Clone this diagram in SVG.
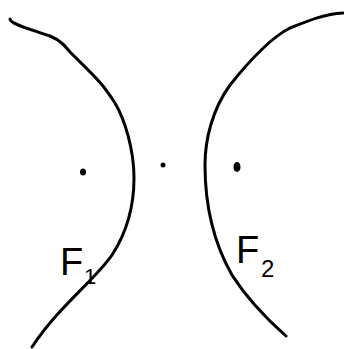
<svg xmlns="http://www.w3.org/2000/svg" width="344" height="349" viewBox="0 0 344 349">
<style>
.curve{fill:none;stroke:#000;stroke-width:3;stroke-linecap:round;stroke-linejoin:round}
.lbl{font-family:"Liberation Sans",Arial,sans-serif;fill:#000}
</style>
<rect width="344" height="349" fill="#fff"/>
<g id="connectors">
<path class="curve" d="M10,19 C10,24 30,29 50,36 C60,40 65,46 70,52 C82,64 95,76 103,86 C110,95 113,100 115,103 C125,120 134,150 134,178 C134,205 127,232 112,255 C95,280 60,305 32,347"/>
<path class="curve" d="M343,13 C325,14 310,20 290,28 C270,38 250,60 230,85 C212,110 205,140 205,165 C205,200 212,240 232,275 C248,300 268,320 286,336"/>
</g>
<g id="focus1"><ellipse cx="83" cy="172" rx="3" ry="3.5"/></g>
<g id="center"><circle cx="163" cy="165" r="2.5"/></g>
<g id="focus2"><ellipse cx="237" cy="167" rx="3.5" ry="5"/></g>
<g id="label1"><text class="lbl" x="60" y="275" font-size="38">F</text><text class="lbl" x="84" y="284" font-size="22">1</text></g>
<g id="label2"><text class="lbl" x="236" y="263" font-size="38">F</text><text class="lbl" x="261" y="277" font-size="24">2</text></g>
</svg>
